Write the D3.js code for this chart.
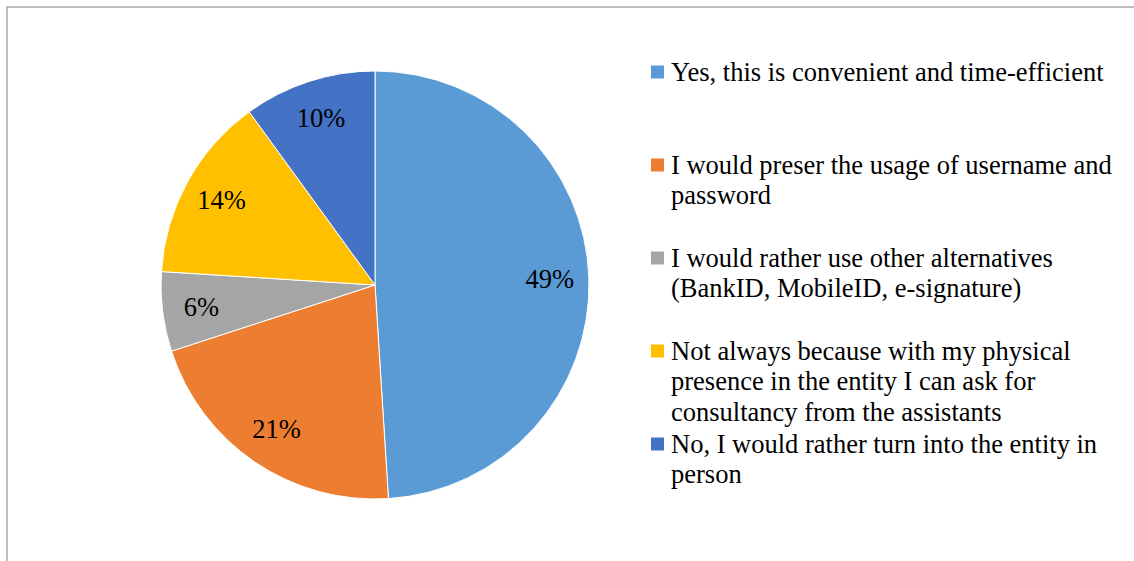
<!DOCTYPE html>
<html>
<head>
<meta charset="utf-8">
<script src="https://cdn.jsdelivr.net/npm/d3@7"></script>
</head>
<body style="margin:0">
<div id="container"></div>
<script>
// chart data
const categories = [
    "Yes, this is convenient and time-efficient",
    "I would preser the usage of username and password",
    "I would rather use other alternatives (BankID, MobileID, e-signature)",
    "Not always because with my physical presence in the entity I can ask for consultancy from the assistants",
    "No, I would rather turn into the entity in person"
];
const shares = [49, 21, 6, 14, 10];
const colors = ["#5B9BD5", "#ED7D31", "#A5A5A5", "#FFC000", "#4472C4"];

const WIDTH = 1134;
const HEIGHT = 561;
const CX = 375;
const CY = 285;
const RADIUS = 214;
const LABEL_RADIUS = 175;
const FONT = "Liberation Serif";
const FONT_SIZE = 26.5;
const WRAP_WIDTH = 460;

const svg = d3.select("#container")
    .append("svg")
    .attr("width", WIDTH)
    .attr("height", HEIGHT);

// chart frame (only top and left edges are inside the window)
svg.append("rect")
    .attr("x", 7)
    .attr("y", 7)
    .attr("width", WIDTH + 20)
    .attr("height", HEIGHT + 20)
    .attr("fill", "none")
    .attr("stroke", "#a6a6a6")
    .attr("stroke-width", 1.5);

const pie = d3.pie().sort(null).value((d) => d);
const arcs = pie(shares);

const arc = d3.arc().innerRadius(0).outerRadius(RADIUS);
const labelArc = d3.arc().innerRadius(LABEL_RADIUS).outerRadius(LABEL_RADIUS);

svg.selectAll("path.slice")
    .data(arcs)
    .enter()
    .append("path")
    .attr("class", "slice")
    .attr("transform", "translate(" + CX + "," + CY + ")")
    .attr("d", arc)
    .attr("fill", (d, i) => colors[i])
    .attr("stroke", "#fff")
    .attr("stroke-width", 1);

// percentage labels
arcs.forEach((d) => {
    const [lx, ly] = labelArc.centroid(d);
    svg.append("text")
        .attr("x", CX + lx)
        .attr("y", CY + ly + FONT_SIZE * 0.33)
        .attr("text-anchor", "middle")
        .attr("font-family", FONT)
        .attr("font-size", FONT_SIZE)
        .text(d.data + "%");
});

// legend
const LEGEND_X = 651;
const LEGEND_Y = 72;
const LEGEND_STEP = 93;
const LINE_HEIGHT = 30.5;

// split a label into lines that fit the legend width
const measure = svg.append("text")
    .attr("font-family", FONT)
    .attr("font-size", FONT_SIZE)
    .attr("visibility", "hidden");

const wrap = (name) => {
    const lines = [];
    let line = [];
    name.split(" ").forEach((w) => {
        line.push(w);
        measure.text(line.join(" "));
        if (measure.node().getComputedTextLength() > WRAP_WIDTH && line.length > 1) {
            line.pop();
            lines.push(line.join(" "));
            line = [w];
        }
    });
    lines.push(line.join(" "));
    return lines;
};

categories.forEach((name, i) => {
    const y = LEGEND_Y + i * LEGEND_STEP;
    svg.append("rect")
        .attr("x", LEGEND_X)
        .attr("y", y - 6.5)
        .attr("width", 13)
        .attr("height", 13)
        .attr("fill", colors[i]);

    wrap(name).forEach((ln, j) => {
        svg.append("text")
            .attr("x", LEGEND_X + 20)
            .attr("y", y + j * LINE_HEIGHT + FONT_SIZE * 0.33)
            .attr("font-family", FONT)
            .attr("font-size", FONT_SIZE)
            .attr("fill", "#000")
            .text(ln);
    });
});
measure.remove();
</script>
</body>
</html>
